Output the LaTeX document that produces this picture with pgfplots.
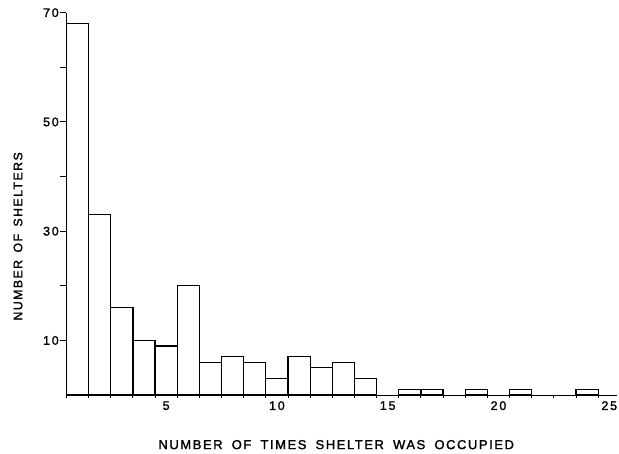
\documentclass[border=0pt]{standalone}
\usepackage{fontspec}
\setmainfont{Liberation Sans}
\newfontfamily\labfont{Liberation Sans}[LetterSpace=12, FakeBold=1.6]
\newfontfamily\tickfont{Liberation Sans}[LetterSpace=14, FakeBold=1.6]
\usepackage{pgfplots}
\pgfplotsset{compat=1.18}
\usetikzlibrary{calc}
\def\ws{\hspace{4pt}}
\def\wy{\hspace{2.5pt}}
\begin{document}
\begin{tikzpicture}
\begin{axis}[
  scale only axis, width=551pt, height=382.7pt,
  xmin=0.5, xmax=25.35, ymin=0, ymax=70,
  axis x line*=bottom, axis y line*=left,
  axis line style={-, line width=1.1pt, black},
  ytick={10,20,...,70}, yticklabels={10,,30,,50,,70},
  xtick={5,10,15,20,25},
  minor xtick={0.5,1.5,...,24.5},
  tick align=outside, major tick length=6pt, minor tick length=3pt,
  tick style={black, line width=0.9pt},
  major x tick style={draw=none},
  /pgf/number format/assume math mode=true,
  ticklabel style={font=\tickfont\fontsize{12.5}{14}\selectfont, inner sep=0pt},
  xticklabel style={anchor=north},
  yticklabel style={anchor=east, xshift=-1.5pt},
  every axis x label/.style={at={(rel axis cs:0.49,0)}, anchor=center, yshift=-49.6pt, inner sep=0pt, font=\labfont\fontsize{13}{15}\selectfont},
  every axis y label/.style={at={(rel axis cs:0,0.415)}, xshift=-48.5pt, rotate=90, anchor=center, inner sep=0pt, font=\labfont\fontsize{12.3}{14}\selectfont},
  xlabel={NUMBER\ws{} OF\ws{} TIMES\ws{} SHELTER\ws{} WAS\ws{} OCCUPIED},
  ylabel={NUMBER\wy{} OF\wy{} SHELTERS},
  clip=false,
]
\addplot[ybar, bar width=1, bar shift=0, fill=white, draw=black, line width=1.3pt] coordinates {
(1,68) (2,33) (3,16) (4,10) (5,9) (6,20) (7,6) (8,7) (9,6) (10,3)
(11,7) (12,5) (13,6) (14,3) (16,1) (17,1) (19,1) (21,1) (24,1)
};
\coordinate (bl) at (rel axis cs:0,0);
\coordinate (tr) at (rel axis cs:1,1);
\end{axis}
\pgfresetboundingbox
\path ($(bl)+(-66.5pt,-58.6pt)$) rectangle ($(tr)+(2pt,12.7pt)$);
\end{tikzpicture}
\end{document}
